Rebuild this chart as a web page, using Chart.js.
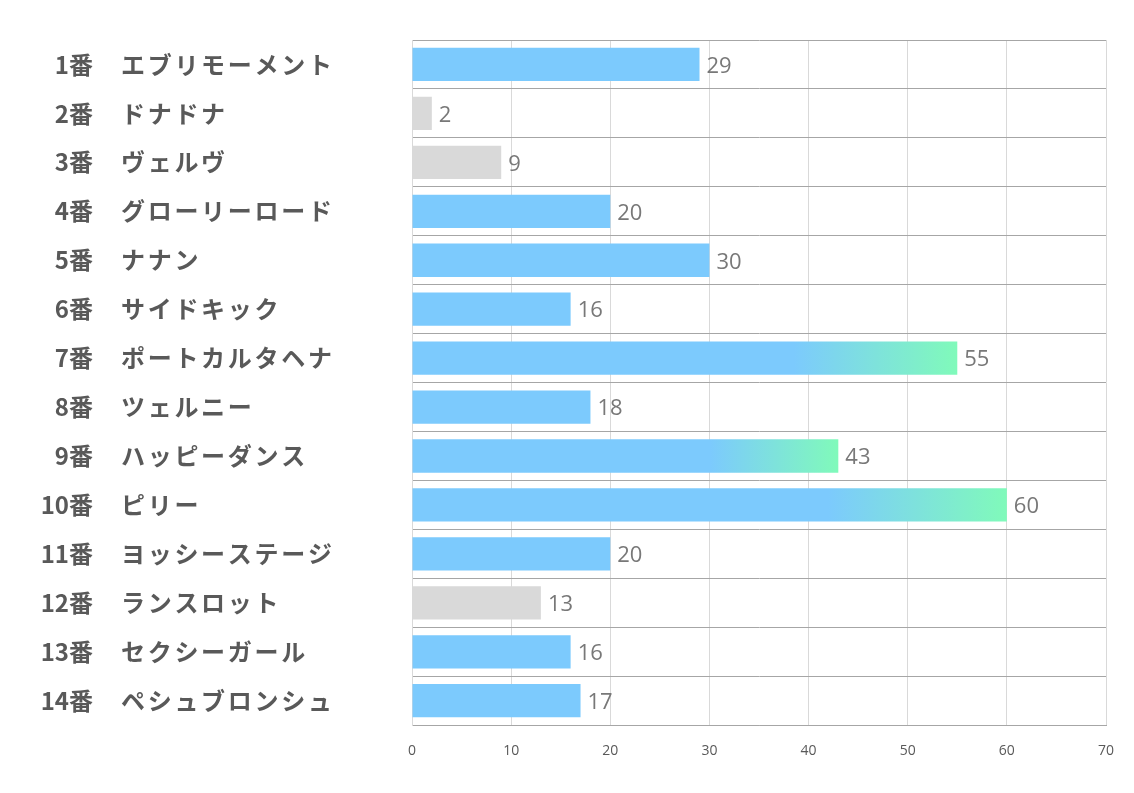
<!DOCTYPE html>
<html>
<head>
<meta charset="utf-8">
<script src="https://cdn.jsdelivr.net/npm/chart.js@4.4.1/dist/chart.umd.min.js"></script>
<style>
	html, body { margin: 0; padding: 0; background: #fff; }
	#wrap { width: 1134px; height: 793px; }
</style>
</head>
<body>
<div id="wrap"><canvas id="myChart"></canvas></div>
<script>
var horseNumbers = ['1番', '2番', '3番', '4番', '5番', '6番', '7番', '8番', '9番', '10番', '11番', '12番', '13番', '14番'];
var horseNames = ['エブリモーメント', 'ドナドナ', 'ヴェルヴ', 'グローリーロード', 'ナナン', 'サイドキック', 'ポートカルタヘナ',
	'ツェルニー', 'ハッピーダンス', 'ピリー', 'ヨッシーステージ', 'ランスロット', 'セクシーガール', 'ペシュブロンシュ'];
var scores = [29, 2, 9, 20, 30, 16, 55, 18, 43, 60, 20, 13, 16, 17];
var greyedHorses = ['2番', '3番', '12番'];
var xTicks = [0, 10, 20, 30, 40, 50, 60, 70];

var BLUE = 'rgb(124, 202, 253)';
var GREEN = 'rgb(128, 250, 186)';
var GREY = 'rgb(217, 217, 217)';
var TEXT = '#595959';

function barColor(context) {
	var i = context.dataIndex;
	var v = scores[i];
	if (greyedHorses.indexOf(horseNumbers[i]) >= 0) return GREY;
	if (v < 40) return BLUE;
	var chart = context.chart;
	var xScale = chart.scales.x;
	if (!xScale || !chart.chartArea) return BLUE;
	var x0 = xScale.getPixelForValue(v * 0.7);
	var x1 = xScale.getPixelForValue(v);
	var g = chart.ctx.createLinearGradient(x0, 0, x1, 0);
	g.addColorStop(0, BLUE);
	g.addColorStop(1, GREEN);
	return g;
}

function _each(arr, fn) {
	for (var i = 0; i < arr.length; i++) fn(arr[i], i);
}

// draws the two-part row labels and the value next to each bar
var labelPlugin = {
	id: 'rowLabels',
	afterDatasetsDraw: function(chart) {
		var ctx = chart.ctx;
		var xScale = chart.scales.x;
		var yScale = chart.scales.y;
		ctx.save();
		ctx.textBaseline = 'middle';
		_each(scores, function(v, i) {
			var y = yScale.getPixelForValue(i);
			ctx.fillStyle = TEXT;
			ctx.font = 'bold 24px "Noto Sans CJK JP"';
			ctx.letterSpacing = '0px';
			ctx.textAlign = 'right';
			ctx.fillText(horseNumbers[i], 93, y);
			ctx.textAlign = 'left';
			ctx.letterSpacing = '2.7px';
			ctx.fillText(horseNames[i], 121, y);
			ctx.letterSpacing = '0px';

			ctx.fillStyle = '#787878';
			ctx.font = '22px "Open Sans"';
			ctx.fillText(String(v), xScale.getPixelForValue(v) + 7, y + 2);
		});
		ctx.restore();
	}
};

var config = {
	type: 'bar',
	data: {
		labels: horseNumbers,
		datasets: [{
			data: scores,
			backgroundColor: barColor,
			borderWidth: 0,
			categoryPercentage: 1,
			barPercentage: 0.68
		}]
	},
	options: {
		indexAxis: 'y',
		responsive: true,
		maintainAspectRatio: false,
		animation: false,
		layout: {
			padding: { left: 412, right: 28, top: 40, bottom: 17 }
		},
		plugins: {
			legend: { display: false },
			tooltip: { enabled: false }
		},
		scales: {
			x: {
				min: 0,
				max: 70,
				afterBuildTicks: function(scale) {
					scale.ticks = xTicks.map(function(t) { return { value: t }; });
				},
				grid: { color: '#d9d9d9', drawTicks: false },
				border: { color: '#a6a6a6' },
				ticks: {
					padding: 17,
					color: TEXT,
					font: { family: '"Open Sans"', size: 14 }
				}
			},
			y: {
				grid: { color: '#a6a6a6', offset: true, drawTicks: false },
				border: { color: '#d9d9d9' },
				ticks: { display: false }
			}
		}
	},
	plugins: [labelPlugin]
};

var ctx = document.getElementById('myChart').getContext('2d');
new Chart(ctx, config);
</script>
</body>
</html>
